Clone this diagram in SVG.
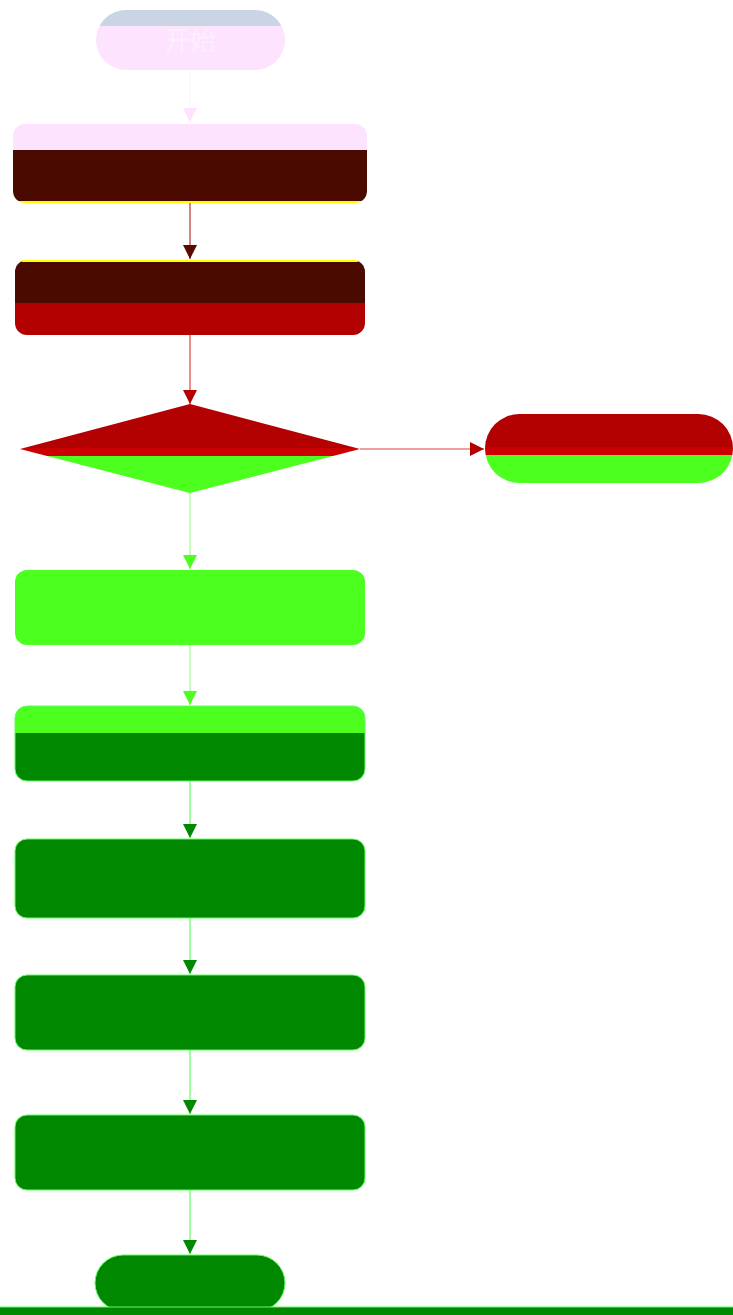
<svg xmlns="http://www.w3.org/2000/svg" width="733" height="1315" viewBox="0 0 733 1315">
<style>
.conn line{stroke-width:1.2;fill:none}
text{font-family:"Noto Sans CJK SC","Noto Sans",sans-serif}
</style>
<defs>
<linearGradient id="g1" gradientUnits="userSpaceOnUse" x1="0" y1="10" x2="0" y2="70">
<stop offset="0" stop-color="#c9d5e5"/><stop offset="0.27" stop-color="#c9d5e5"/><stop offset="0.27" stop-color="#fde3fd"/><stop offset="1" stop-color="#fde3fd"/>
</linearGradient>
<linearGradient id="t1" gradientUnits="userSpaceOnUse" x1="0" y1="10" x2="0" y2="70">
<stop offset="0" stop-color="#222"/><stop offset="0.27" stop-color="#222"/><stop offset="0.27" stop-color="#fdedfd"/><stop offset="1" stop-color="#fdedfd"/>
</linearGradient>
<linearGradient id="g2" gradientUnits="userSpaceOnUse" x1="0" y1="124" x2="0" y2="203">
<stop offset="0" stop-color="#fde3fd"/><stop offset="0.33" stop-color="#fde3fd"/><stop offset="0.33" stop-color="#4a0a00"/><stop offset="0.97" stop-color="#4a0a00"/><stop offset="0.97" stop-color="#ffff00"/><stop offset="1" stop-color="#ffff00"/>
</linearGradient>
<linearGradient id="g3" gradientUnits="userSpaceOnUse" x1="0" y1="260" x2="0" y2="335">
<stop offset="0" stop-color="#4a0a00"/><stop offset="0.57" stop-color="#4a0a00"/><stop offset="0.57" stop-color="#b30000"/><stop offset="1" stop-color="#b30000"/>
</linearGradient>
<linearGradient id="g4" gradientUnits="userSpaceOnUse" x1="0" y1="404" x2="0" y2="493">
<stop offset="0" stop-color="#b30000"/><stop offset="0.5" stop-color="#b30000"/><stop offset="0.5" stop-color="#cc0000"/><stop offset="0.58" stop-color="#cc0000"/><stop offset="0.58" stop-color="#4cff1f"/><stop offset="1" stop-color="#4cff1f"/>
</linearGradient>
<linearGradient id="g5" gradientUnits="userSpaceOnUse" x1="0" y1="414" x2="0" y2="483">
<stop offset="0" stop-color="#b30000"/><stop offset="0.48" stop-color="#b30000"/><stop offset="0.48" stop-color="#cc0000"/><stop offset="0.6" stop-color="#cc0000"/><stop offset="0.6" stop-color="#4cff1f"/><stop offset="1" stop-color="#4cff1f"/>
</linearGradient>
<linearGradient id="g6" gradientUnits="userSpaceOnUse" x1="0" y1="706" x2="0" y2="781">
<stop offset="0" stop-color="#4cff1f"/><stop offset="0.36" stop-color="#4cff1f"/><stop offset="0.36" stop-color="#008800"/><stop offset="1" stop-color="#008800"/>
</linearGradient>
<marker id="aP" markerWidth="14" markerHeight="14" refX="14" refY="7" orient="auto" markerUnits="userSpaceOnUse"><path d="M0,0L14,7L0,14z" fill="#fde3fd"/></marker>
<marker id="aM" markerWidth="14" markerHeight="14" refX="14" refY="7" orient="auto" markerUnits="userSpaceOnUse"><path d="M0,0L14,7L0,14z" fill="#5a0a00"/></marker>
<marker id="aR" markerWidth="14" markerHeight="14" refX="14" refY="7" orient="auto" markerUnits="userSpaceOnUse"><path d="M0,0L14,7L0,14z" fill="#b30000"/></marker>
<marker id="aG" markerWidth="14" markerHeight="14" refX="14" refY="7" orient="auto" markerUnits="userSpaceOnUse"><path d="M0,0L14,7L0,14z" fill="#4cff1f"/></marker>
<marker id="aD" markerWidth="14" markerHeight="14" refX="14" refY="7" orient="auto" markerUnits="userSpaceOnUse"><path d="M0,0L14,7L0,14z" fill="#008800"/></marker>
</defs>
<rect width="733" height="1315" fill="#ffffff"/>
<g class="conn" id="connectors">
<line x1="190" y1="70" x2="190" y2="122" stroke="#fff4ff" marker-end="url(#aP)"/>
<line x1="190" y1="203" x2="190" y2="259" stroke="#c03030" marker-end="url(#aM)"/>
<line x1="190" y1="335" x2="190" y2="404" stroke="#e04040" marker-end="url(#aR)"/>
<line x1="360" y1="449" x2="484" y2="449" stroke="#e04040" marker-end="url(#aR)"/>
<line x1="190" y1="493" x2="190" y2="569" stroke="#9fff8f" marker-end="url(#aG)"/>
<line x1="190" y1="645" x2="190" y2="705" stroke="#9fff8f" marker-end="url(#aG)"/>
<line x1="190" y1="781" x2="190" y2="838" stroke="#5fff5f" marker-end="url(#aD)"/>
<line x1="190" y1="918" x2="190" y2="974" stroke="#5fff5f" marker-end="url(#aD)"/>
<line x1="190" y1="1050" x2="190" y2="1114" stroke="#5fff5f" marker-end="url(#aD)"/>
<line x1="190" y1="1190" x2="190" y2="1254" stroke="#5fff5f" marker-end="url(#aD)"/>
</g>
<g id="start">
<rect x="96" y="10" width="189" height="60" rx="30" fill="url(#g1)"/>
<text x="190" y="50" font-size="26" text-anchor="middle" fill="url(#t1)">开始</text>
</g>
<g id="step1"><rect x="13" y="124" width="354" height="79" rx="12" fill="url(#g2)"/></g>
<g id="step2"><rect x="15" y="260" width="350" height="75" rx="12" fill="url(#g3)"/><rect x="22" y="260" width="336" height="2" fill="#ffff00"/></g>
<g id="decision"><polygon points="20,449 190,404 360,449 190,493" fill="url(#g4)"/></g>
<g id="endRight"><rect x="485" y="414" width="248" height="69" rx="34.5" fill="url(#g5)"/></g>
<g id="step3"><rect x="15" y="570" width="350" height="75" rx="12" fill="#4cff1f"/></g>
<g id="step4"><rect x="15" y="706" width="350" height="75" rx="12" fill="url(#g6)" stroke="#5fff5f" stroke-width="1"/></g>
<g id="step5"><rect x="15" y="839" width="350" height="79" rx="12" fill="#008800" stroke="#5fff5f" stroke-width="1"/></g>
<g id="step6"><rect x="15" y="975" width="350" height="75" rx="12" fill="#008800" stroke="#5fff5f" stroke-width="1"/></g>
<g id="step7"><rect x="15" y="1115" width="350" height="75" rx="12" fill="#008800" stroke="#5fff5f" stroke-width="1"/></g>
<g id="end"><rect x="95" y="1255" width="190" height="56" rx="28" fill="#008800" stroke="#5fff5f" stroke-width="1"/></g>
<rect x="0" y="1307" width="733" height="8" fill="#008800"/>
<line x1="0" y1="1307" x2="733" y2="1307" stroke="#5fff5f" stroke-width="1"/>
</svg>
